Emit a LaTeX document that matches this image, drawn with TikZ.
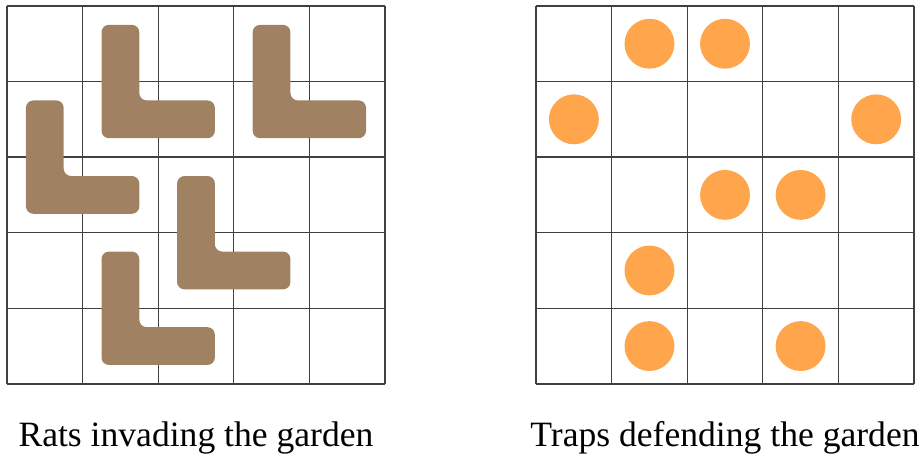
\documentclass[tikz,border=0pt]{standalone}
\usepackage{fontspec}
\setmainfont{Liberation Serif}
\definecolor{ratbrown}{RGB}{160,130,98}
\definecolor{traporange}{RGB}{255,166,77}

\begin{document}
\begin{tikzpicture}
    \useasboundingbox (-0.093,-5.99) rectangle (12.093,0.079);

    % Grids
    \foreach \ox in {0,7} {
        \draw[black!75, line width=0.5pt] (\ox,-5) grid (\ox+5,0);
    }

    % Rats (L shapes, given by their top cell)
    \foreach \i/\j in {1/0,3/0,0/1,2/2,1/3} {
        \fill[ratbrown, rounded corners=2.8pt]
            (\i+0.25,-\j-0.25) -- (\i+0.75,-\j-0.25)
            -- (\i+0.75,-\j-1.25) -- (\i+1.75,-\j-1.25)
            -- (\i+1.75,-\j-1.75) -- (\i+0.25,-\j-1.75) -- cycle;
    }

    % Traps
    \foreach \i/\j in {1/0,2/0,0/1,4/1,2/2,3/2,1/3,1/4,3/4} {
        \fill[traporange] (7.5+\i,-\j-0.5) circle (0.33);
    }

    % Captions
    \node[anchor=base, font=\fontsize{13.4}{16}\selectfont] (ratlabel) at (2.5,-5.83) {Rats invading the garden};
    \node[anchor=base, font=\fontsize{13.4}{16}\selectfont] (traplabel) at (9.5,-5.83) {Traps defending the garden};
\end{tikzpicture}
\end{document}
